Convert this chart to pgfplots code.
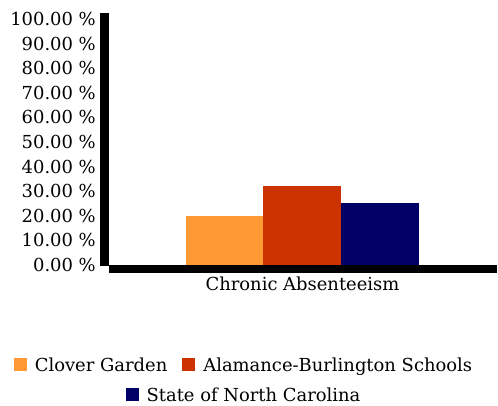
\documentclass[border=0pt]{standalone}
\usepackage{pgfplots}
\pgfplotsset{compat=1.18}
\usepackage{fontspec}
\setmainfont{DejaVu Serif}
\definecolor{cgor}{HTML}{FF9933}
\definecolor{abred}{HTML}{CC3300}
\definecolor{ncnavy}{HTML}{000066}
\begin{document}
\begin{tikzpicture}
\begin{axis}[
 scale only axis, width=388bp, height=251.9bp,
 xmin=109, xmax=497, ymin=0, ymax=102.4,
 axis line style={draw=none},
 clip=false,
 major tick length=0pt,
 ytick={0,10,...,100},
 /pgf/number format/assume math mode=true,
 yticklabel={\pgfmathprintnumber[fixed,fixed zerofill,precision=2]{\tick}~\%},
 yticklabel style={inner sep=0pt, anchor=east, xshift=-13bp, font=\fontsize{18}{20}\selectfont},
 xtick={302.5}, xticklabels={Chronic Absenteeism},
 xticklabel style={inner sep=0pt, anchor=north, yshift=-12bp, font=\fontsize{18}{20}\selectfont},
 ybar, bar shift=0pt, bar width=77.7,
]
\addplot[fill=cgor, draw=none] coordinates {(224.65,20.0)};
\addplot[fill=abred, draw=none] coordinates {(302.15,32.2)};
\addplot[fill=ncnavy, draw=none] coordinates {(380.15,25.1)};
\fill[black] (axis cs:100,-0.3) rectangle (axis cs:109,102.4);
\fill[black] (axis cs:109,0) rectangle (axis cs:497,-3.1);
\path (axis cs:0,107.7) rectangle (axis cs:498,-57.3);
\node[align=center, anchor=center, inner sep=0pt, font=\fontsize{18}{30}\selectfont] at (axis cs:243,-46.6)
 {\textcolor{cgor}{\rule{13bp}{13bp}}\hspace{8bp}Clover Garden\hspace{15bp}\textcolor{abred}{\rule{13bp}{13bp}}\hspace{8bp}Alamance-Burlington Schools\\
  \textcolor{ncnavy}{\rule{13bp}{13bp}}\hspace{8bp}State of North Carolina};
\end{axis}
\end{tikzpicture}
\end{document}
